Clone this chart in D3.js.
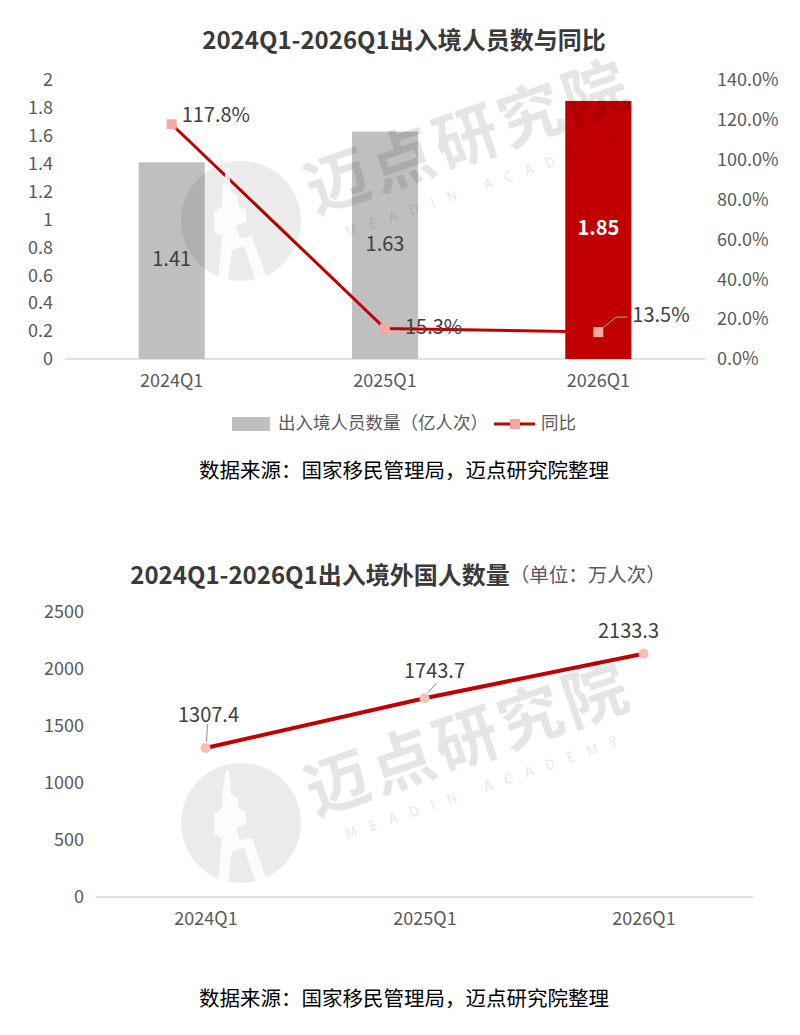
<!DOCTYPE html>
<html>
<head>
<meta charset="utf-8">
<script src="https://cdn.jsdelivr.net/npm/d3@7"></script>
<style>
  body { margin: 0; background: #fff; }
  svg text { font-family: "Noto Sans CJK SC", "Noto Sans", sans-serif; }
</style>
</head>
<body>
<script>
// data
const quarters = ["2024Q1", "2025Q1", "2026Q1"];
const travellers = [1.41, 1.63, 1.85];          // 亿人次
const yoy = [1.178, 0.153, 0.135];              // 同比
const foreigners = [1307.4, 1743.7, 2133.3];    // 万人次
const leftTicks = [0, 0.2, 0.4, 0.6, 0.8, 1, 1.2, 1.4, 1.6, 1.8, 2];
const rightTicks = [0, 0.2, 0.4, 0.6, 0.8, 1, 1.2, 1.4];
const bottomTicks = [0, 500, 1000, 1500, 2000, 2500];

const width = 800, height = 1035;
const red = "#c00000", grey = "#bfbfbf", pink = "#f4a8a2";

const svg = d3.select("body").append("svg")
    .attr("width", width)
    .attr("height", height);

svg.append("rect").attr("width", width).attr("height", height).attr("fill", "#fff");

// ---------- chart 1 ----------
const x = d3.scaleBand().domain(quarters).range([65, 705])
    .paddingInner(0.69).paddingOuter(0.345);
const yL = d3.scaleLinear().domain([0, 2]).range([359, 80]);
const yR = d3.scaleLinear().domain([0, 1.4]).range([359, 80]);

svg.append("text")
    .attr("x", 404).attr("y", 42)
    .attr("text-anchor", "middle").attr("dominant-baseline", "middle")
    .attr("font-size", 24).attr("font-weight", "bold").attr("fill", "#3a3a3a")
    .text("2024Q1-2026Q1出入境人员数与同比");

function styleAxis(g, size) {
  g.select(".domain").remove();
  g.selectAll("text").attr("font-size", size).attr("fill", "#595959")
      .style("font-family", '"Noto Sans CJK SC", sans-serif');
}

svg.append("g").attr("transform", "translate(53,0)")
    .call(d3.axisLeft(yL).tickValues(leftTicks).tickSize(0).tickPadding(0).tickFormat(d => String(d)))
    .call(g => styleAxis(g, 18));

svg.append("g").attr("transform", "translate(717,0)")
    .call(d3.axisRight(yR).tickValues(rightTicks).tickSize(0).tickPadding(0).tickFormat(d3.format(".1%")))
    .call(g => styleAxis(g, 18));

svg.append("line")
    .attr("x1", 65).attr("x2", 705).attr("y1", 359).attr("y2", 359)
    .attr("stroke", "#d9d9d9").attr("stroke-width", 1.5);

svg.append("g").attr("transform", "translate(0,359)")
    .call(d3.axisBottom(x).tickSize(0).tickPadding(15))
    .call(g => styleAxis(g, 18));

svg.selectAll(".bar")
    .data(travellers)
    .enter().append("rect")
    .attr("x", (d, i) => x(quarters[i]))
    .attr("y", d => yL(d))
    .attr("width", x.bandwidth())
    .attr("height", d => yL(0) - yL(d))
    .attr("fill", (d, i) => i === 2 ? red : grey);

svg.selectAll(".barlabel")
    .data(travellers)
    .enter().append("text")
    .attr("x", (d, i) => x(quarters[i]) + x.bandwidth() / 2)
    .attr("y", d => (yL(d) + yL(0)) / 2)
    .attr("text-anchor", "middle").attr("dominant-baseline", "middle")
    .attr("font-size", 20)
    .attr("font-weight", (d, i) => i === 2 ? "bold" : "normal")
    .attr("fill", (d, i) => i === 2 ? "#fff" : "#404040")
    .text(d => d.toFixed(2));

const cx = d => x(d) + x.bandwidth() / 2;
const line = d3.line().x((d, i) => cx(quarters[i])).y(d => yR(d));

svg.append("path").datum(yoy)
    .attr("d", line).attr("fill", "none")
    .attr("stroke", red).attr("stroke-width", 3);

svg.selectAll(".sq")
    .data(yoy)
    .enter().append("rect")
    .attr("x", (d, i) => cx(quarters[i]) - 5)
    .attr("y", d => yR(d) - 5)
    .attr("width", 10).attr("height", 10)
    .attr("fill", pink);

// leader for the last label
const lx = cx(quarters[2]), ly = yR(yoy[2]);
svg.append("polyline")
    .attr("points", `${lx + 4},${ly - 4} ${lx + 18},${ly - 15} ${lx + 29},${ly - 15}`)
    .attr("fill", "none").attr("stroke", "#a6a6a6").attr("stroke-width", 1);

const yoyOffsets = [[10, -8], [20, 0], [34, -16]];
svg.selectAll(".yoylabel")
    .data(yoy)
    .enter().append("text")
    .attr("x", (d, i) => cx(quarters[i]) + yoyOffsets[i][0])
    .attr("y", (d, i) => yR(d) + yoyOffsets[i][1])
    .attr("dominant-baseline", "middle")
    .attr("font-size", 20).attr("fill", "#404040")
    .text(d => d3.format(".1%")(d));

// legend
svg.append("rect").attr("x", 232).attr("y", 417).attr("width", 38).attr("height", 14).attr("fill", grey);
svg.append("text").attr("x", 278).attr("y", 424).attr("dominant-baseline", "middle")
    .attr("font-size", 17.5).attr("fill", "#595959").text("出入境人员数量（亿人次）");
svg.append("line").attr("x1", 494).attr("x2", 535).attr("y1", 424).attr("y2", 424)
    .attr("stroke", red).attr("stroke-width", 3);
svg.append("rect").attr("x", 510).attr("y", 419).attr("width", 10).attr("height", 10).attr("fill", pink);
svg.append("text").attr("x", 541).attr("y", 424).attr("dominant-baseline", "middle")
    .attr("font-size", 17.5).attr("fill", "#595959").text("同比");

svg.append("text").attr("x", 404).attr("y", 472)
    .attr("text-anchor", "middle").attr("dominant-baseline", "middle")
    .attr("font-size", 20.5).attr("fill", "#000")
    .text("数据来源：国家移民管理局，迈点研究院整理");

// ---------- chart 2 ----------
const x2 = d3.scalePoint().domain(quarters).range([96, 753]).padding(0.5);
const y2 = d3.scaleLinear().domain([0, 2500]).range([897, 612]);

const t2 = svg.append("text")
    .attr("x", 398).attr("y", 577)
    .attr("text-anchor", "middle").attr("dominant-baseline", "middle")
    .attr("fill", "#3a3a3a");
t2.append("tspan").attr("font-size", 24).attr("font-weight", "bold").text("2024Q1-2026Q1出入境外国人数量");
t2.append("tspan").attr("font-size", 19.5).attr("fill", "#595959").text("（单位：万人次）");

svg.append("g").attr("transform", "translate(84,0)")
    .call(d3.axisLeft(y2).tickValues(bottomTicks).tickSize(0).tickPadding(0).tickFormat(d => String(d)))
    .call(g => styleAxis(g, 18));

svg.append("line")
    .attr("x1", 96).attr("x2", 753).attr("y1", 897).attr("y2", 897)
    .attr("stroke", "#d9d9d9").attr("stroke-width", 1.5);

svg.append("g").attr("transform", "translate(0,897)")
    .call(d3.axisBottom(x2).tickSize(0).tickPadding(15))
    .call(g => styleAxis(g, 18));

const line2 = d3.line().x((d, i) => x2(quarters[i])).y(d => y2(d));
svg.append("path").datum(foreigners)
    .attr("d", line2).attr("fill", "none")
    .attr("stroke", red).attr("stroke-width", 4);

svg.selectAll(".dot")
    .data(foreigners)
    .enter().append("circle")
    .attr("cx", (d, i) => x2(quarters[i]))
    .attr("cy", d => y2(d))
    .attr("r", 5).attr("fill", "#f7bdb8");

// leaders
[[0, [1, -6], [2, -24]], [1, [3, -5], [12, -15]]].forEach(([i, a, b]) => {
  const px = x2(quarters[i]), py = y2(foreigners[i]);
  svg.append("line")
      .attr("x1", px + a[0]).attr("y1", py + a[1])
      .attr("x2", px + b[0]).attr("y2", py + b[1])
      .attr("stroke", "#8c8c8c").attr("stroke-width", 1);
});

const fOffsets = [[3, -31], [10, -26], [-15, -21]];
svg.selectAll(".flabel")
    .data(foreigners)
    .enter().append("text")
    .attr("x", (d, i) => x2(quarters[i]) + fOffsets[i][0])
    .attr("y", (d, i) => y2(d) + fOffsets[i][1])
    .attr("text-anchor", "middle").attr("dominant-baseline", "middle")
    .attr("font-size", 20).attr("fill", "#404040")
    .text(d => d.toFixed(1));

svg.append("text").attr("x", 404).attr("y", 1000)
    .attr("text-anchor", "middle").attr("dominant-baseline", "middle")
    .attr("font-size", 20.5).attr("fill", "#000")
    .text("数据来源：国家移民管理局，迈点研究院整理");

// ---------- watermarks ----------
function watermark(dy) {
  const g = svg.append("g").attr("transform", `translate(0,${dy})`).attr("pointer-events", "none");
  g.append("circle").attr("cx", 241).attr("cy", 221).attr("r", 60)
      .attr("fill", "#000").attr("fill-opacity", 0.08);
  // tower silhouette
  g.append("path")
      .attr("d", "M226,168 L229,168 L231,192 L238,196 L238,206 L246,210 L246,222 L236,226 L240,238 L252,236 L268,281 L256,281 L244,246 L232,250 L228,281 L218,281 L222,236 L214,232 L214,212 L222,206 L222,194 Z")
      .attr("fill", "#fff").attr("fill-opacity", 0.85);
  g.append("text")
      .attr("transform", "translate(470,142) rotate(-19)")
      .attr("text-anchor", "middle").attr("dominant-baseline", "middle")
      .attr("font-size", 64).attr("font-weight", "bold")
      .attr("letter-spacing", 4)
      .attr("fill", "#000").attr("fill-opacity", 0.1)
      .text("迈点研究院");
  g.append("text")
      .attr("transform", "translate(488,185) rotate(-19)")
      .attr("text-anchor", "middle").attr("dominant-baseline", "middle")
      .attr("font-size", 14)
      .attr("letter-spacing", 13)
      .attr("fill", "#000").attr("fill-opacity", 0.12)
      .text("MEADIN ACADEMY");
}
watermark(0);
watermark(602);
</script>
</body>
</html>
